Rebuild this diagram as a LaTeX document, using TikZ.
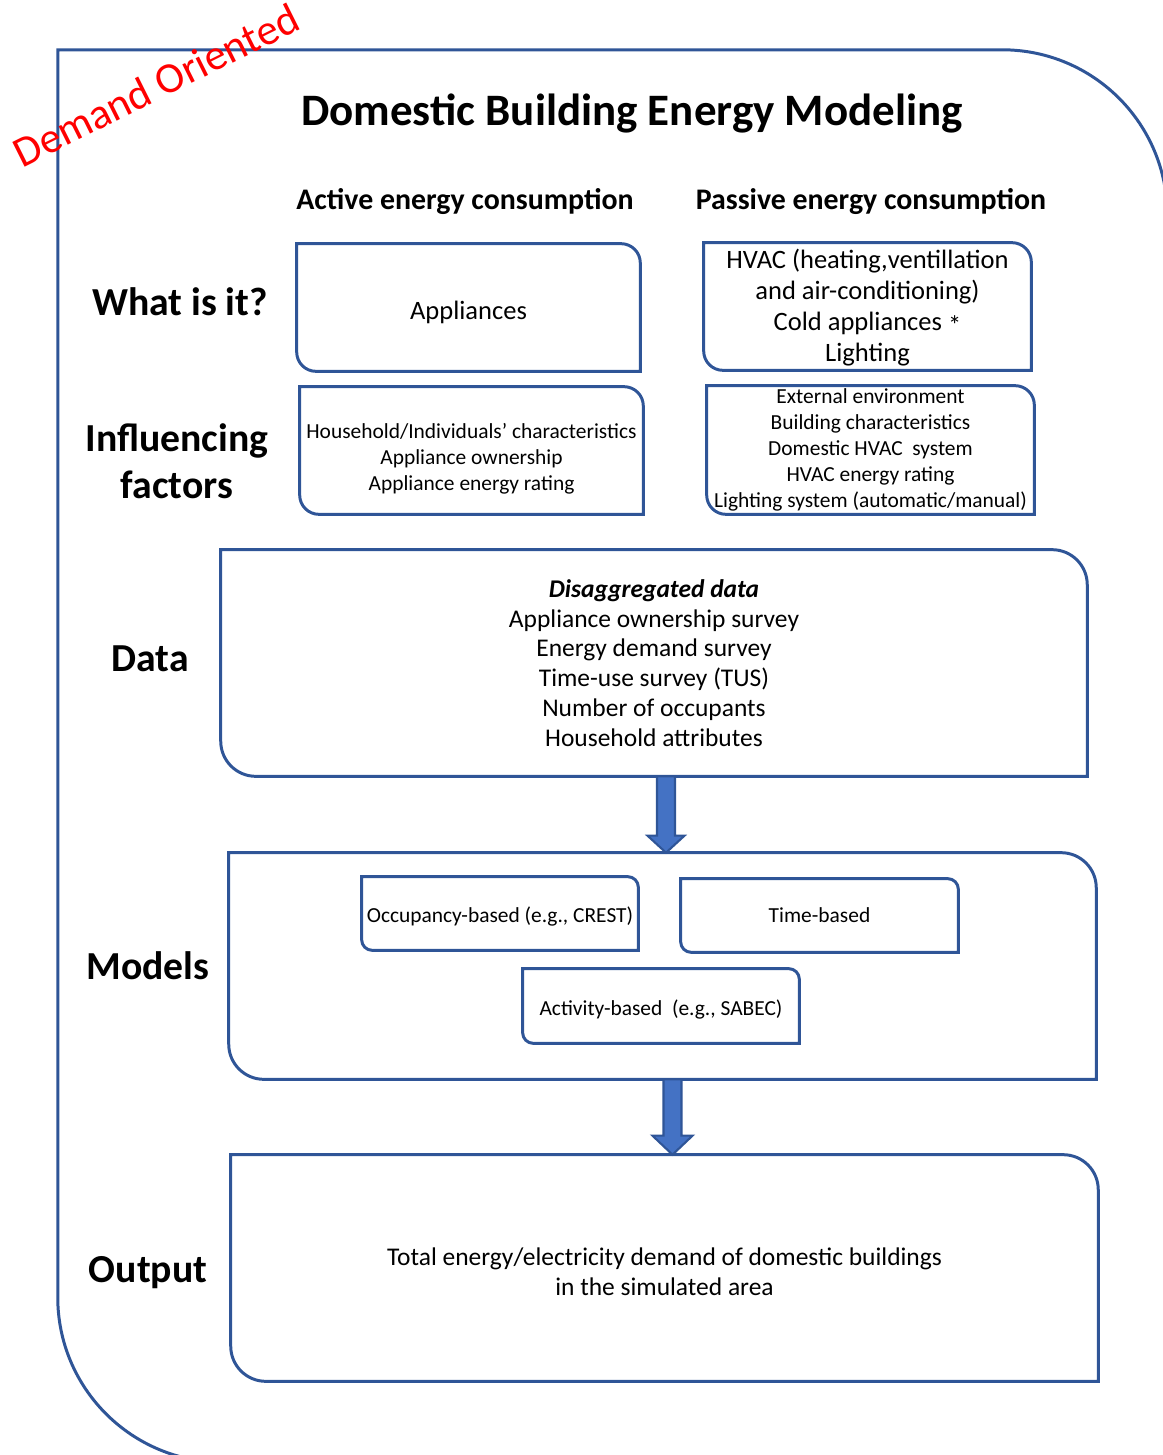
\documentclass[tikz,border=0pt]{standalone}
\usepackage{fontspec}
\setmainfont{Carlito}
\usepackage{tikz}
\usetikzlibrary{calc}

\definecolor{frameblue}{HTML}{2F5597}
\definecolor{arrowblue}{HTML}{4472C4}

% frame with rounded top-right and bottom-left corners
\newcommand{\roundframe}[2]{%
  \draw[frame] (#1.north west) -- (#1.north) [rounded corners=#2] -- (#1.north east) -- (#1.east)
    [sharp corners] -- (#1.south east) -- (#1.south) [rounded corners=#2] -- (#1.south west) -- (#1.west)
    [sharp corners] -- cycle;}

\tikzset{
  frame/.style={draw=frameblue,line width=1.7pt},
  blockarrow/.style={draw=frameblue,fill=arrowblue,line width=1.2pt,line join=miter},
  titletext/.style={font=\fontsize{25.6}{30}\selectfont\bfseries},
  headtext/.style={font=\fontsize{17}{20}\selectfont\bfseries},
  rowtext/.style={font=\fontsize{22.6}{26.7}\selectfont\bfseries,align=center},
  bodytext/.style={font=\fontsize{14.5}{17}\selectfont,align=center,inner sep=0pt},
  bigtext/.style={font=\fontsize{15.1}{17.7}\selectfont,align=center,inner sep=0pt},
  smalltext/.style={font=\fontsize{12.2}{14.7}\selectfont,align=center,inner sep=0pt}
}

\begin{document}
\begin{tikzpicture}[x=0.02cm,y=-0.02cm]
  \useasboundingbox (0,0) rectangle (1163,1455);
  \clip (0,0) rectangle (1163,1455);

  % outer frame
  \node[minimum width=22.18cm,minimum height=28.24cm,inner sep=0pt] (outer) at (612.5,756) {};
  \roundframe{outer}{3.3cm}

  \node[red,rotate=26.5,font=\fontsize{24.5}{28}\selectfont] (demand) at (156,85) {Demand Oriented};
  \node[titletext] (title) at (632,113) {Domestic Building Energy Modeling};

  % column headings
  \node[headtext] (active) at (465,202) {Active energy consumption};
  \node[headtext] (passive) at (871,202) {Passive energy consumption};

  % row labels
  \node[rowtext] (what) at (180,302) {What is it?};
  \node[rowtext] (influence) at (177,461) {Influencing\\factors};
  \node[rowtext] (datalabel) at (150,659) {Data};
  \node[rowtext] (modellabel) at (148,966) {Models};
  \node[rowtext] (outlabel) at (148,1273) {Output};

  % what is it
  \node[bigtext,minimum width=6.86cm,minimum height=2.54cm] (appl) at (468.5,307.5) {\rule{0pt}{16pt}Appliances};
  \node[bigtext,minimum width=6.54cm,minimum height=2.54cm] (hvac) at (867.5,306.5)
    {\rule{0pt}{12pt}HVAC (heating,ventillation\\and air-conditioning)\\Cold appliances \raisebox{-2.5pt}{*}\\Lighting};
  \roundframe{appl}{11pt}
  \roundframe{hvac}{11pt}

  % influencing factors
  \node[smalltext,minimum width=6.86cm,minimum height=2.54cm] (inflact) at (471.5,450.5)
    {\rule{0pt}{18pt}Household/Individuals’ characteristics\\Appliance ownership\\Appliance energy rating};
  \node[smalltext,minimum width=6.54cm,minimum height=2.56cm] (inflpas) at (870.5,450)
    {External environment\\Building characteristics\\Domestic HVAC\ \ system\\HVAC energy rating\\Lighting system (automatic/manual)};
  \roundframe{inflact}{11pt}
  \roundframe{inflpas}{11pt}

  % data
  \node[bodytext,minimum width=17.32cm,minimum height=4.52cm] (data) at (654,663)
    {\textbf{\textit{Disaggregated data}}\\Appliance ownership survey\\Energy demand survey\\Time-use survey (TUS)\\Number of occupants\\Household attributes};
  \roundframe{data}{20pt}

  % models
  \node[minimum width=17.34cm,minimum height=4.52cm,inner sep=0pt] (models) at (662.5,966) {};
  \roundframe{models}{20pt}
  \node[smalltext,minimum width=5.52cm,minimum height=1.46cm] (occ) at (500,913.5) {\rule{0pt}{12.5pt}Occupancy-based (e.g., CREST)};
  \node[smalltext,minimum width=5.54cm,minimum height=1.46cm] (timeb) at (819.5,915.5) {Time-based};
  \node[smalltext,minimum width=5.52cm,minimum height=1.48cm] (actb) at (661,1006) {\rule{0pt}{12.5pt}Activity-based\ \ (e.g., SABEC)};
  \roundframe{occ}{6pt}
  \roundframe{timeb}{6pt}
  \roundframe{actb}{6pt}

  % output
  \node[bodytext,minimum width=17.34cm,minimum height=4.52cm] (out) at (664.5,1268)
    {\rule{0pt}{14pt}Total energy/electricity demand of domestic buildings\\in the simulated area};
  \roundframe{out}{20pt}

  % arrows
  \coordinate (arrA) at ([xshift=0.24cm]data.south);
  \coordinate (arrAend) at (arrA |- models.north);
  \draw[blockarrow] ([xshift=-0.18cm]arrA) -- ([xshift=-0.18cm,yshift=0.34cm]arrAend)
    -- ([xshift=-0.37cm,yshift=0.34cm]arrAend) -- (arrAend) -- ([xshift=0.37cm,yshift=0.34cm]arrAend)
    -- ([xshift=0.18cm,yshift=0.34cm]arrAend) -- ([xshift=0.18cm]arrA) -- cycle;

  \coordinate (arrB) at ([xshift=0.2cm]models.south);
  \coordinate (arrBend) at (arrB |- out.north);
  \draw[blockarrow] ([xshift=-0.18cm]arrB) -- ([xshift=-0.18cm,yshift=0.38cm]arrBend)
    -- ([xshift=-0.4cm,yshift=0.38cm]arrBend) -- (arrBend) -- ([xshift=0.4cm,yshift=0.38cm]arrBend)
    -- ([xshift=0.18cm,yshift=0.38cm]arrBend) -- ([xshift=0.18cm]arrB) -- cycle;
\end{tikzpicture}
\end{document}
